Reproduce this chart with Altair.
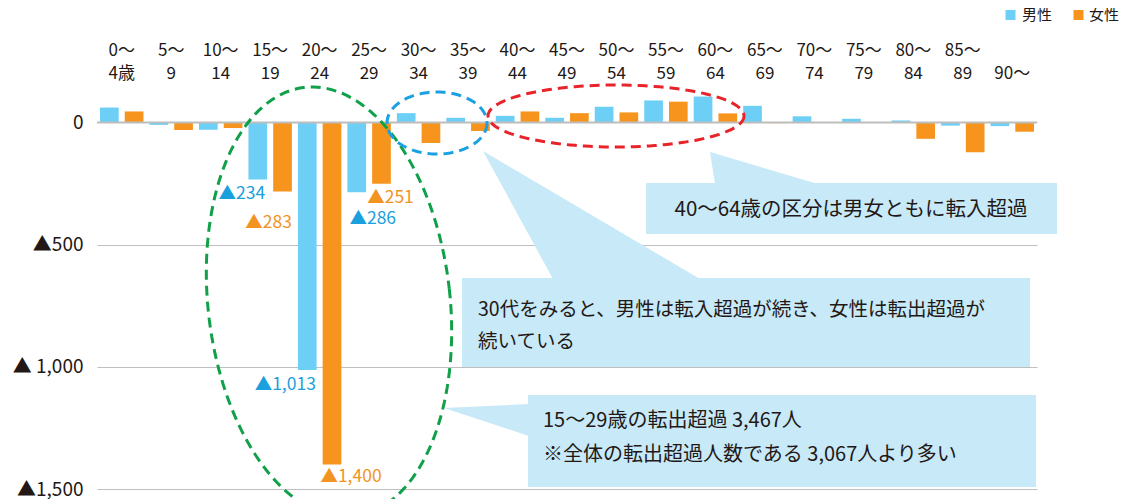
import altair as alt
import numpy as np
import pandas as pd

FONT = "Noto Sans CJK JP"

# ---- data ----
ages = ["0～4歳", "5～9", "10～14", "15～19", "20～24", "25～29", "30～34", "35～39",
        "40～44", "45～49", "50～54", "55～59", "60～64", "65～69", "70～74", "75～79",
        "80～84", "85～89", "90～"]
label_top = ["0～", "5～", "10～", "15～", "20～", "25～", "30～", "35～", "40～", "45～",
             "50～", "55～", "60～", "65～", "70～", "75～", "80～", "85～", ""]
label_bottom = ["4歳", "9", "14", "19", "24", "29", "34", "39", "44", "49", "54", "59",
                "64", "69", "74", "79", "84", "89", "90～"]
male = [61, -10, -30, -234, -1013, -286, 38, 19, 27, 19, 64, 90, 106, 68, 25, 15, 8, -13, -15]
female = [45, -31, -23, -283, -1400, -251, -84, -35, 45, 38, 41, 85, 37, -3, 0, -2, -67, -122, -38]
sexes = ["男性", "女性"]
colors = ["#6dcff6", "#f7941d"]
text_colors = ["#1aa0dc", "#f39322"]

labeled = [  # (age, sex, value text)
    ("15～19", "男性", "▲234"), ("15～19", "女性", "▲283"),
    ("20～24", "男性", "▲1,013"), ("20～24", "女性", "▲1,400"),
    ("25～29", "男性", "▲286"), ("25～29", "女性", "▲251"),
]
label_offsets = [(-16, 14), (-14, 31), (-22, 15), (19, 12), (16, 27), (9, 14)]

note1 = ["40～64歳の区分は男女ともに転入超過"]
note2 = ["30代をみると、男性は転入超過が続き、女性は転出超過が", "続いている"]
note3 = ["15～29歳の転出超過 3,467人", "※全体の転出超過人数である 3,067人より多い"]

# ---- layout ----
W, H = 940, 391
LEFT, TOP = 89, 90
OX, OY = 8 + LEFT, 8 + TOP


def px(x):
    return x - OX


def py(y):
    return y - OY


rows = []
for i, a in enumerate(ages):
    rows.append({"age": a, "sex": "男性", "value": male[i]})
    rows.append({"age": a, "sex": "女性", "value": female[i]})
df = pd.DataFrame(rows)

xenc = alt.X("age:N", scale=alt.Scale(domain=ages, paddingInner=0, paddingOuter=0), axis=None)
xoff = alt.XOffset("sex:N", scale=alt.Scale(domain=sexes, paddingInner=0.245, paddingOuter=0.122))
yscale = alt.Scale(domain=[-1500, 100], nice=False, zero=False)
yaxis = alt.Axis(values=[0, -500, -1000, -1500],
                 labelExpr="datum.value == 0 ? '0' : datum.value == -1000 ? '▲ 1,000' : '▲' + format(-datum.value, ',')",
                 grid=True, gridColor="#bfbfbf", gridWidth=1, domain=False, ticks=False,
                 labelPadding=14, labelFontSize=19, labelColor="#231815", labelFont=FONT,
                 title=None)
yenc = alt.Y("value:Q", scale=yscale, axis=yaxis)
cscale = alt.Scale(domain=sexes, range=colors)

bars = alt.Chart(df).mark_bar().encode(
    x=xenc,
    xOffset=xoff,
    y=yenc,
    color=alt.Color("sex:N", scale=cscale, legend=None),
)

# hand-placed legend (square + label)
leg_df = pd.DataFrame({"sex": sexes, "sx": [px(1010.5), px(1078.5)], "tx": [px(1022), px(1089)],
                       "y": [py(15), py(15)]})
leg_sq = alt.Chart(leg_df).mark_square(size=100, opacity=1).encode(
    x=alt.X("sx:Q", scale=None, axis=None), y=alt.Y("y:Q", scale=None, axis=None),
    color=alt.Color("sex:N", scale=cscale, legend=None))
leg_tx = alt.Chart(leg_df).mark_text(fontSize=15, font=FONT, color="#231815", align="left",
                                     baseline="middle").encode(
    x=alt.X("tx:Q", scale=None, axis=None), y=alt.Y("y:Q", scale=None, axis=None), text="sex:N")

zero = alt.Chart(pd.DataFrame({"value": [0]})).mark_rule(color="#bdbdbd", strokeWidth=2).encode(
    y=yenc)

cat_df = pd.DataFrame({"age": ages, "t": label_top, "b": label_bottom})
cat_top = alt.Chart(cat_df).mark_text(fontSize=17, font=FONT, color="#231815", baseline="middle").encode(
    x=xenc, y=alt.value(py(51)), text="t:N")
cat_bot = alt.Chart(cat_df).mark_text(fontSize=17, font=FONT, color="#231815", baseline="middle").encode(
    x=xenc, y=alt.value(py(74)), text="b:N")

val_layers = []
for (a, s, t), (dx, dy) in zip(labeled, label_offsets):
    v = df[(df.age == a) & (df.sex == s)].value.iloc[0]
    d = pd.DataFrame({"age": [a], "sex": [s], "value": [v], "t": [t]})
    val_layers.append(
        alt.Chart(d).mark_text(fontSize=17.5, font=FONT, dx=dx, dy=dy, baseline="middle",
                               color=text_colors[sexes.index(s)]).encode(
            x=xenc, xOffset=xoff, y=yenc, text="t:N"))


def ellipse(cx, cy, a_h, a_v, rot_deg, n=160):
    t = np.linspace(0, 2 * np.pi, n)
    u = a_h * np.cos(t)
    v = a_v * np.sin(t)
    ph = np.deg2rad(rot_deg)
    x = cx + u * np.cos(ph) - v * np.sin(ph)
    y = cy + u * np.sin(ph) + v * np.cos(ph)
    return pd.DataFrame({"x": px(x), "y": py(y), "i": np.arange(n)})


def ell_layer(d, color):
    return alt.Chart(d).mark_line(color=color, strokeWidth=3, strokeDash=[10, 6]).encode(
        x=alt.X("x:Q", scale=None, axis=None), y=alt.Y("y:Q", scale=None, axis=None),
        order="i:Q")


green = ell_layer(ellipse(329, 302, 121, 216, -6.5), "#10a049")
blue = ell_layer(ellipse(437, 123, 50, 31, 0), "#1ba1e2")
red = ell_layer(ellipse(616, 116, 128, 31, 0), "#e8242a")

BOX = "#c7e9f8"
boxes_df = pd.DataFrame({
    "x0": [px(646), px(462), px(528)], "x1": [px(1057), px(1030), px(1036)],
    "y0": [py(183), py(278), py(395)], "y1": [py(234), py(367), py(487)]})
boxes = alt.Chart(boxes_df).mark_rect(color=BOX).encode(
    x=alt.X("x0:Q", scale=None, axis=None), x2="x1:Q",
    y=alt.Y("y0:Q", scale=None, axis=None), y2="y1:Q")


def pointer(pts):
    d = pd.DataFrame([{"x": px(x), "y": py(a), "y2": py(b)} for x, a, b in pts])
    return alt.Chart(d).mark_area(color=BOX, opacity=1).encode(
        x=alt.X("x:Q", scale=None, axis=None), y=alt.Y("y:Q", scale=None, axis=None), y2="y2:Q")


def tri_down(tip, bx1, bx2, by):
    tx, ty = tip
    ytop = ty + (bx1 - tx) / (bx2 - tx) * (by - ty)
    return [(tx, ty, ty), (bx1, ytop, by), (bx2, by, by)]


p1 = pointer(tri_down((710, 152), 715, 818, 184))
p2 = pointer(tri_down((483, 151), 553, 700, 279))
p3 = pointer([(444, 408, 408), (529, 404, 436)])


def note_layer(lines, x, y0, dy, align, size=19.5):
    d = pd.DataFrame({"t": lines, "x": [px(x)] * len(lines),
                      "y": [py(y0 + k * dy) for k in range(len(lines))]})
    return alt.Chart(d).mark_text(fontSize=size, font=FONT, color="#231815", align=align,
                                  baseline="middle").encode(
        x=alt.X("x:Q", scale=None, axis=None), y=alt.Y("y:Q", scale=None, axis=None), text="t:N")


n1 = note_layer(note1, 851, 210, 0, "center", 20.5)
n2 = note_layer(note2, 478, 310, 32, "left")
n3 = note_layer(note3, 543, 421, 34, "left", 20)

chart = alt.layer(
    bars, zero, cat_top, cat_bot, *val_layers, green, blue, red,
    p1, p2, p3, boxes, n1, n2, n3, leg_sq, leg_tx
).properties(
    width=W, height=H,
    autosize=alt.AutoSizeParams(type="none"),
    padding={"left": LEFT, "top": TOP, "right": 85, "bottom": 10},
    background="white",
).configure_view(stroke=None)

chart.save("out.html", embed_options={"renderer": "svg", "actions": False})
